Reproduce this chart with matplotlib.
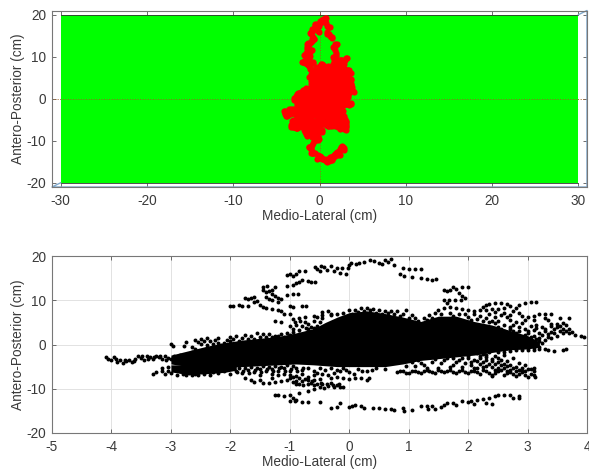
import numpy as np
import matplotlib
matplotlib.use('Agg')
import matplotlib.pyplot as plt

plt.rcParams['font.family'] = ['Liberation Sans', 'DejaVu Sans']
plt.rcParams['axes.unicode_minus'] = False

# saturated middle of the sway cloud: x, lower edge, upper edge (cm)
core_x = [-3.0, -2.7, -2.4, -2.1, -1.8, -1.5, -1.2, -0.9, -0.6, -0.4, -0.2, 0.0, 0.3, 0.6, 0.9, 1.2, 1.5, 1.8, 2.1, 2.4, 2.7, 3.0, 3.2]
core_low = [-4.4, -5.0, -5.6, -5.2, -5.0, -4.8, -4.6, -4.4, -4.6, -4.8, -5.0, -5.0, -5.0, -5.0, -4.4, -3.6, -3.2, -2.8, -2.4, -1.8, -1.2, -1.0, -0.6]
core_high = [-2.4, -1.4, -0.4, 0.4, 1.0, 1.4, 1.8, 2.6, 3.6, 5.0, 6.2, 7.2, 7.6, 7.0, 6.2, 5.2, 6.4, 6.4, 5.2, 4.4, 3.2, 2.0, 0.6]

# dense band under the left half of the cloud
band_x = [-3.0, -2.7, -2.4, -2.1, -1.9]
band_low = [-6.2, -6.8, -6.6, -6.3, -5.8]
band_high = [-4.6, -4.6, -4.6, -4.6, -4.6]

upper_arc = [(-2.0, 8.7), (-1.95, 8.7), (-1.85, 8.9), (-1.8, 8.8), (-1.7, 8.6), (-1.75, 10.5), (-1.7, 10.3), (-1.65, 10.5),
             (-1.6, 10.8), (-1.55, 9.8), (-1.6, 9.5), (-1.5, 9.0), (-1.45, 8.5), (-1.4, 8.2), (-1.3, 8.0), (-1.2, 7.7),
             (-1.15, 7.5), (-1.1, 7.0), (-1.0, 6.8), (-1.45, 13.0), (-1.45, 12.3), (-1.4, 11.8), (-1.38, 13.2), (-1.35, 12.0),
             (-1.3, 11.5), (-1.25, 11.0), (-1.2, 10.5), (-1.25, 13.1), (-1.4, 10.8), (-1.35, 10.2), (-1.3, 10.0), (-1.2, 9.7),
             (-1.3, 12.4), (-1.15, 10.2), (-1.05, 13.2), (-0.95, 13.5), (-0.9, 13.8), (-0.85, 14.2), (-0.8, 14.6), (-0.7, 14.3),
             (-0.65, 14.1), (-0.58, 14.2), (-1.05, 11.2), (-0.95, 11.5), (-0.87, 11.5), (-1.05, 15.7), (-1.0, 15.9), (-0.95, 15.5),
             (-0.9, 16.0), (-0.85, 16.6), (-0.75, 16.6), (-0.57, 17.6), (-0.54, 17.1), (-0.5, 16.7), (-0.48, 17.8), (-0.42, 17.5),
             (-0.38, 16.8), (-0.3, 17.8), (-0.25, 16.5), (-0.2, 17.3), (-0.15, 16.2), (-0.12, 17.2), (-0.05, 16.0), (-0.02, 17.3),
             (0.0, 18.0), (0.03, 18.4), (0.12, 18.3), (0.17, 18.5), (0.25, 18.7), (0.35, 19.0), (0.42, 18.8), (0.5, 18.5),
             (0.55, 18.2), (0.6, 19.2), (0.66, 18.6), (0.7, 19.3), (0.75, 18.0), (0.9, 17.4), (1.0, 17.0), (1.1, 17.0),
             (1.2, 17.1), (0.86, 16.0), (0.92, 15.5), (1.05, 15.3), (1.2, 15.0), (1.3, 14.8), (1.4, 14.5), (1.46, 14.8),
             (1.6, 12.4), (1.65, 12.0), (1.7, 12.3), (1.75, 13.0), (1.8, 12.5), (1.9, 12.9), (2.0, 13.0), (1.85, 11.6),
             (1.9, 11.0), (1.95, 10.5), (1.6, 10.0), (1.68, 10.0), (1.78, 10.1), (1.88, 10.0)]

inner_left = [(-1.25, 5.2), (-1.15, 5.1), (-1.0, 4.2), (-0.95, 5.8), (-0.85, 6.0), (-0.75, 6.3), (-0.6, 6.4), (-0.9, 4.5),
              (-0.8, 4.2), (-0.7, 4.6), (-1.0, 8.7), (-0.95, 8.4), (-0.8, 8.7), (-0.72, 8.6), (-0.95, 3.6), (-0.85, 3.2),
              (-0.7, 3.4), (-0.45, 7.4), (-0.35, 7.5), (-0.55, 6.3), (-0.45, 5.9), (-0.6, 5.2), (-0.75, 5.0), (-0.65, 4.0),
              (-0.5, 5.0), (-0.55, 4.2), (-0.45, 6.6), (-0.3, 6.9), (-0.82, 5.4), (-0.92, 5.0), (-0.72, 3.8), (-0.6, 3.7)]

lower_arc = [(-1.25, -11.5), (-1.2, -11.5), (-1.1, -11.7), (-1.0, -11.4), (-0.95, -12.0), (-0.9, -12.5), (-1.0, -12.8), (-0.92, -12.8),
             (-0.8, -12.9), (-0.7, -13.0), (-0.5, -13.0), (-0.3, -14.3), (-0.2, -14.2), (-0.15, -13.3), (0.0, -14.2), (0.05, -14.0),
             (0.1, -13.7), (0.2, -13.9), (0.25, -14.3), (0.4, -14.3), (0.5, -14.4), (0.6, -14.5), (0.7, -14.5), (0.75, -14.8),
             (0.9, -14.3), (0.92, -15.0), (1.05, -14.8), (1.2, -13.8), (1.3, -13.9), (1.32, -14.6), (1.4, -14.0), (1.45, -14.5),
             (1.55, -14.2), (1.6, -13.7), (1.65, -13.3), (1.75, -13.2), (1.8, -13.6), (1.9, -12.8), (2.0, -13.0), (2.05, -12.7),
             (2.1, -13.5), (2.15, -12.6), (2.25, -12.4), (2.3, -13.2), (2.35, -12.0), (2.4, -13.5), (2.45, -11.7), (2.5, -11.4),
             (2.6, -11.3), (2.7, -11.5), (2.75, -12.0), (2.85, -12.2), (2.85, -11.7), (-0.85, -10.9), (-0.7, -10.5), (-0.6, -10.0)]

left_tail = [(-4.1, -2.9), (-4.05, -3.3), (-4.0, -3.6), (-3.95, -2.9), (-3.9, -4.0), (-3.85, -3.5), (-3.8, -4.1), (-3.75, -3.7),
             (-3.7, -3.4), (-3.65, -3.9), (-3.6, -3.2), (-3.55, -2.6), (-3.5, -3.1), (-3.45, -3.6), (-3.4, -2.6), (-3.35, -2.9),
             (-3.3, -3.3), (-3.25, -2.5), (-3.2, -2.9), (-3.15, -3.3), (-3.1, -2.5), (-3.05, -3.0), (-3.0, -3.3), (-2.95, -2.6),
             (-2.9, -3.1), (-2.85, -2.4), (-3.0, 0.1), (-2.97, -0.3), (-2.75, 0.6), (-2.78, -0.3), (-2.6, -1.0), (-2.65, -1.6),
             (-3.92, -3.3), (-3.78, -3.4), (-3.62, -3.7), (-3.48, -2.5), (-3.38, -3.2), (-3.28, -2.8), (-3.18, -2.6), (-3.08, -3.4)]

lower_left = [(-3.3, -6.7), (-3.25, -6.3), (-3.15, -6.1), (-3.1, -6.7), (-3.05, -5.9), (-3.0, -6.4), (-2.95, -5.6), (-2.9, -6.8),
              (-2.85, -6.1), (-2.8, -6.7), (-2.75, -6.9), (-2.7, -6.4), (-2.65, -7.0), (-2.6, -6.7), (-2.55, -7.0), (-2.45, -6.7),
              (-2.35, -6.8), (-2.3, -6.2), (-2.2, -6.4), (-2.1, -6.1), (-2.0, -6.6), (-1.9, -5.9), (-1.8, -6.4), (-1.7, -5.8),
              (-1.6, -6.2), (-1.5, -5.6), (-1.4, -6.0), (-1.3, -5.5), (-1.2, -5.9), (-1.1, -5.4), (-1.0, -5.9), (-0.9, -5.2),
              (-0.8, -5.7), (-0.7, -5.3), (-0.6, -6.0), (-0.5, -5.4), (-0.4, -5.8), (-0.3, -5.2), (-0.2, -5.7), (-0.1, -5.4),
              (-3.15, -5.3), (-3.05, -5.0), (-1.85, -5.2), (-1.75, -5.4), (-1.65, -5.0), (-1.55, -5.2), (-1.45, -4.9), (-1.35, -5.1),
              (-1.25, -4.8), (-1.15, -5.0), (-1.05, -4.7), (-0.95, -4.9), (-1.88, -6.3), (-1.78, -5.9), (-1.68, -6.4), (-1.58, -5.7),
              (-1.48, -6.2), (-1.38, -5.5), (-1.28, -6.1), (-1.18, -5.4), (-1.08, -6.0), (-0.98, -5.5), (-0.88, -6.0), (-0.78, -5.2)]

upper_left = [(-2.6, 1.1), (-2.55, 0.6), (-2.5, 1.3), (-2.45, 0.8), (-2.4, 1.4), (-2.3, 0.2), (-2.25, 1.0), (-2.2, 1.5),
              (-2.1, 0.4), (-2.05, 1.1), (-2.0, 1.6), (-1.9, 2.0), (-1.8, 1.5), (-1.75, 2.1), (-1.65, 1.9), (-1.6, 1.2),
              (-1.55, 2.5), (-1.45, 2.3), (-1.35, 2.4), (-1.25, 2.0), (-1.15, 2.3), (-1.05, 2.6), (-0.95, 2.9), (-0.85, 2.4),
              (-2.5, 0.2), (-2.4, -0.2), (-2.35, 0.7), (-2.2, 0.3), (-2.15, -0.1), (-2.0, 0.7), (-1.95, 1.2), (-1.85, 0.9),
              (-1.7, 1.3), (-1.5, 1.6), (-1.4, 1.8), (-1.3, 1.7), (-1.2, 1.9), (-1.1, 1.8), (-1.0, 2.2), (-2.65, -0.6)]

lower_mid = [(-1.75, -7.5), (-1.65, -8.0), (-1.6, -8.5), (-1.5, -8.0), (-1.45, -8.8), (-1.35, -8.7), (-1.25, -8.5), (-1.3, -7.5),
             (-1.2, -7.0), (-1.15, -8.2), (-1.05, -8.0), (-1.0, -7.6), (-0.95, -8.5), (-0.9, -8.2), (-0.85, -9.0), (-0.8, -8.3),
             (-0.75, -7.8), (-0.7, -9.0), (-0.65, -8.6), (-0.6, -9.2), (-0.55, -8.9), (-0.5, -9.5), (-0.45, -9.0), (-0.42, -9.8),
             (-0.35, -9.3), (-0.3, -8.8), (-0.25, -9.5), (-0.2, -9.2), (-0.15, -9.7), (-0.1, -9.6), (-0.3, -7.5), (-0.2, -7.4),
             (-0.1, -7.6), (0.0, -7.7), (0.1, -7.5), (0.2, -7.6), (0.3, -8.0), (0.33, -7.5), (-1.0, -6.9), (-0.9, -7.1),
             (-0.8, -6.7), (-0.7, -7.3), (-0.6, -6.9), (-0.5, -7.7), (-0.45, -6.6), (-0.35, -6.8), (-0.25, -6.5), (-0.6, -8.1),
             (-1.1, -6.6), (-1.3, -6.6), (-1.5, -6.9), (0.0, -6.2), (0.15, -5.5), (0.3, -6.1), (0.45, -5.3), (0.6, -5.6),
             (-0.9, -8.9), (-0.78, -9.1), (-0.62, -8.3), (-0.48, -8.6), (-0.38, -8.9), (-0.28, -9.2), (-0.18, -8.9), (-0.7, -8.1),
             (-0.85, -7.6), (-0.95, -7.3), (-0.55, -6.4), (-0.15, -6.1), (-0.05, -5.8), (0.08, -6.6), (0.22, -5.9), (0.38, -5.7)]

top_fringe = [(-0.3, 6.6), (-0.2, 7.0), (-0.1, 7.2), (0.0, 7.7), (0.05, 6.9), (0.1, 7.9), (0.15, 7.3), (0.2, 8.2),
              (0.25, 7.5), (0.3, 8.3), (0.35, 7.7), (0.4, 8.1), (0.45, 7.2), (0.5, 7.8), (0.55, 7.0), (0.6, 7.5),
              (0.65, 7.1), (0.7, 7.6), (0.75, 6.8), (0.8, 7.6), (0.85, 6.4), (0.95, 7.7), (0.9, 6.9), (1.0, 5.9),
              (1.15, 5.3), (1.25, 6.0), (1.35, 6.6), (1.45, 7.1), (1.5, 7.7), (1.6, 8.2), (1.65, 9.3), (1.7, 8.4),
              (1.8, 8.2), (1.9, 8.0), (2.0, 7.9), (2.1, 7.6), (2.2, 7.9), (1.7, 7.1), (1.85, 6.8), (2.0, 6.3),
              (2.15, 5.7), (2.25, 5.3), (2.35, 5.0), (2.45, 4.8), (2.5, 3.9), (2.6, 3.0), (2.65, 2.2), (1.55, 6.9),
              (1.75, 6.5), (1.95, 7.0), (2.05, 5.6), (2.2, 6.4), (2.3, 5.9), (2.4, 5.4), (2.5, 5.2), (2.6, 4.4),
              (2.55, 3.4), (2.7, 3.9), (2.75, 3.0), (1.1, 5.9), (1.3, 5.5), (1.05, 6.6), (1.4, 5.9), (2.1, 6.9)]

right_fringe = [(2.25, 8.5), (2.3, 9.0), (2.35, 9.2), (2.45, 9.3), (2.55, 9.3), (2.65, 9.1), (2.7, 8.7), (2.6, 8.2),
                (2.5, 8.0), (2.4, 8.0), (2.3, 7.9), (2.85, 9.0), (2.95, 9.3), (3.05, 9.6), (3.15, 9.7), (2.8, 8.3),
                (2.75, 7.5), (2.85, 7.2), (2.9, 6.5), (3.0, 6.3), (3.1, 6.5), (3.2, 6.8), (3.3, 6.9), (3.4, 6.8),
                (3.55, 6.1), (3.7, 6.1), (3.3, 6.0), (3.35, 5.5), (3.1, 5.5), (2.95, 5.5), (3.4, 4.7), (3.5, 4.6),
                (3.6, 4.8), (3.65, 4.5), (3.7, 3.5), (3.75, 2.8), (3.8, 2.2), (3.9, 1.9), (3.95, 1.7), (3.6, 2.5),
                (3.55, 3.0), (3.5, 2.0), (3.45, 3.5), (3.4, 1.4), (3.3, 3.0), (3.35, 2.3), (3.25, 4.0), (3.15, 4.5),
                (3.05, 4.2), (2.9, 4.8), (2.8, 5.0), (2.7, 5.5), (3.2, 1.5), (3.1, 2.0), (3.0, 2.5), (2.9, 1.5),
                (2.8, 2.5), (2.7, 3.5), (3.3, -1.0), (3.35, -1.3), (3.45, -1.5), (3.6, -1.2), (3.65, -1.0), (3.2, -0.5),
                (3.1, -1.3), (3.0, -1.2), (2.9, -1.2), (2.8, -1.2), (2.7, -1.5), (2.6, -1.6), (2.5, -1.6), (3.1, 0.5),
                (3.0, 0.7), (2.9, 0.2), (3.2, 0.8), (2.8, -0.3), (2.7, 0.0), (2.75, 1.0), (2.65, -0.8), (2.55, 0.6),
                (2.6, 1.8), (2.5, -0.6), (2.95, -0.4), (3.05, -0.2), (3.25, 0.3), (3.15, 1.2), (3.3, 1.0), (3.05, 1.6),
                (2.95, 2.1), (2.85, 3.0), (2.95, 3.4), (3.1, 3.2), (3.2, 2.6), (3.4, 2.8), (3.5, 3.9), (3.6, 3.4),
                (2.85, 4.0), (2.8, 0.5), (2.9, -0.8), (3.0, -0.7), (3.1, -0.7), (3.2, -1.0), (3.0, 3.0), (3.15, 3.7),
                (3.3, 3.5), (3.35, 1.7), (3.25, 2.1), (3.45, 2.6), (3.7, 2.5), (3.65, 3.0), (3.55, 4.1), (3.4, 4.1),
                (2.75, 4.5), (2.65, 6.2), (2.55, 6.6), (2.45, 6.2), (2.35, 6.9), (2.45, 7.3), (2.6, 7.1), (2.7, 6.6)]

lower_right = [(0.8, -6.3), (0.9, -6.0), (1.0, -6.4), (1.1, -5.9), (1.2, -6.4), (1.3, -5.8), (1.4, -6.3), (1.5, -5.7),
               (1.6, -6.3), (1.7, -5.7), (1.8, -6.4), (1.9, -5.8), (2.0, -6.5), (2.1, -5.9), (2.2, -6.7), (2.3, -6.0),
               (2.4, -6.9), (2.5, -6.1), (2.6, -6.9), (2.7, -6.2), (2.8, -7.1), (2.9, -6.3), (3.0, -7.3), (3.1, -6.0),
               (3.12, -7.4), (3.1, -5.2), (3.0, -5.6), (2.9, -5.3), (2.8, -5.0), (2.7, -4.6), (2.6, -4.3), (2.5, -4.0),
               (2.4, -3.8), (2.3, -3.5), (2.2, -3.0), (2.1, -3.5), (2.0, -3.0), (1.95, -4.2), (1.85, -3.5), (1.75, -4.6),
               (1.65, -3.0), (1.55, -4.2), (1.45, -3.2), (1.35, -2.9), (1.25, -4.6), (1.15, -3.6), (1.05, -4.0), (0.95, -4.8),
               (2.4, -5.1), (2.5, -5.4), (2.6, -5.3), (2.7, -5.7), (2.8, -6.0), (2.3, -4.8), (2.2, -4.4), (2.15, -5.2),
               (2.05, -4.7), (2.25, -2.2), (2.35, -1.8), (2.45, -2.5), (2.15, -2.0), (1.95, -2.0), (2.5, -3.0), (2.4, -7.2),
               (0.85, -5.9), (0.95, -6.5), (1.05, -6.1), (1.15, -6.3), (1.25, -5.9), (1.35, -6.0), (1.45, -6.5), (1.55, -5.9),
               (1.65, -6.0), (1.75, -6.3), (1.85, -6.0), (1.95, -6.2), (2.05, -6.0), (2.15, -6.3), (2.25, -5.7), (2.35, -6.4),
               (2.45, -6.5), (2.55, -5.8), (2.65, -6.5), (2.75, -6.6), (2.85, -6.7), (2.95, -6.8), (3.05, -6.6), (2.85, -5.7),
               (2.95, -6.0), (3.05, -5.5), (2.75, -5.3), (2.65, -4.9), (2.55, -4.7), (2.45, -4.5), (2.35, -4.3), (2.25, -3.9),
               (2.15, -3.7), (2.05, -3.9), (1.9, -5.0), (1.7, -5.1), (1.5, -5.2), (1.3, -5.2), (1.1, -4.9), (2.3, -2.9),
               (2.4, -3.2), (2.2, -2.5), (2.55, -3.6), (2.65, -3.7), (1.8, -4.0), (1.6, -3.6), (1.4, -4.0), (1.2, -4.2),
               (1.9, -3.0), (2.0, -2.5), (1.75, -3.1), (2.3, -2.3), (2.6, -2.4), (2.75, -3.0), (2.85, -4.2), (2.95, -4.7),
               (2.1, -5.4), (2.25, -5.1), (2.45, -5.8), (2.65, -6.1), (2.9, -6.0), (3.1, -6.8)]

clusters = [upper_arc, inner_left, lower_arc, left_tail, lower_left, upper_left, lower_mid, top_fringe, right_fringe, lower_right]
ml = np.array([p[0] for c in clusters for p in c])
ap = np.array([p[1] for c in clusters for p in c])

# target area and the corners of the outer limits
box_x = [-30, 30]
box_low = [-20, -20]
box_high = [20, 20]
outer_x = [-30, -31, 31, 31, 30]
outer_y = [-20, -21, -21, 21, 20]

fig = plt.figure(figsize=(5.89, 4.71), dpi=100)
tc = '#3a3a3a'

ax1 = fig.add_axes([52 / 589, (471 - 187) / 471, 535 / 589, 176.5 / 471])
ax1.fill_between(box_x, box_low, box_high, color='#00ff00', lw=0, zorder=1)
ax1.plot(box_x, box_low, color='#333333', lw=0.6, zorder=2)
ax1.plot(box_x, box_high, color='#333333', lw=0.6, zorder=2)
ax1.axhline(0, color='#a06020', lw=0.7, ls=':', zorder=2)
ax1.axvline(0, color='#a06020', lw=0.7, ls=':', zorder=2)
ax1.plot(outer_x, outer_y, color='#7fa8cc', lw=1.0, zorder=2, clip_on=False)
ax1.fill_between(core_x, core_low, core_high, color='#ff0000', lw=0, zorder=3)
ax1.fill_between(band_x, band_low, band_high, color='#ff0000', lw=0, zorder=3)
ax1.scatter(ml, ap, s=20, c='#ff0000', linewidths=0, zorder=4)
ax1.set_xlim(-31, 31)
ax1.set_ylim(-21, 21)
ax1.set_xticks(range(-30, 31, 10))
ax1.set_yticks(range(-20, 21, 10))

ax2 = fig.add_axes([52 / 589, (471 - 433) / 471, 535 / 589, 177 / 471])
ax2.fill_between(core_x, core_low, core_high, color='black', lw=0, zorder=3)
ax2.fill_between(band_x, band_low, band_high, color='black', lw=0, zorder=3)
ax2.scatter(ml, ap, s=8, c='black', linewidths=0, zorder=4)
ax2.grid(True, color='#e2e2e2', lw=0.7, zorder=0)
ax2.set_axisbelow(True)
ax2.set_xlim(-5, 4)
ax2.set_ylim(-20, 20)
ax2.set_xticks(range(-5, 5))
ax2.set_yticks(range(-20, 21, 10))

for ax in (ax1, ax2):
    ax.set_xlabel('Medio-Lateral (cm)', fontsize=9.8, color=tc, labelpad=1)
    ax.set_ylabel('Antero-Posterior (cm)', fontsize=9.8, color=tc, labelpad=1)
    ax.tick_params(direction='in', top=True, right=True, length=3, width=0.6, color='#555555',
                   labelcolor=tc, labelsize=9.8, pad=4)
    ax.tick_params(axis='x', pad=5)
    for s in ax.spines.values():
        s.set_color('#777777')
        s.set_linewidth(0.8)

fig.savefig('out.png', dpi=100)
